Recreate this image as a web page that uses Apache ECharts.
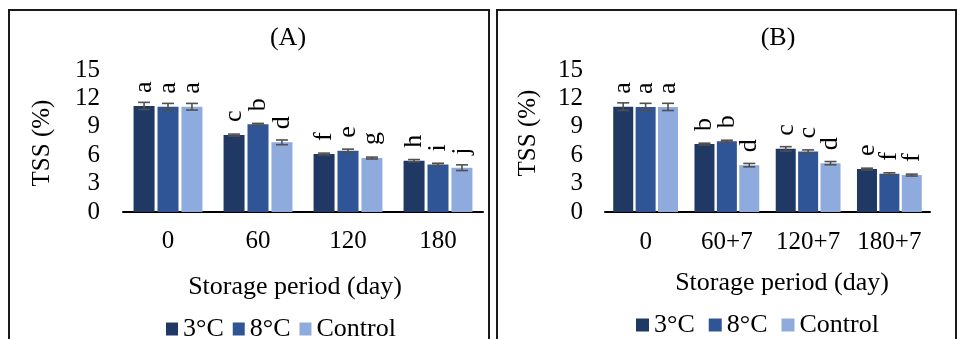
<!DOCTYPE html>
<html>
<head>
<meta charset="utf-8">
<style>html,body{margin:0;padding:0;background:#fff;}#c{width:957px;height:339px;}</style>
<script src="https://cdn.jsdelivr.net/npm/echarts@6/dist/echarts.min.js"></script>
</head>
<body>
<div id="c"></div>
<script>
const seriesNames = ['3°C', '8°C', 'Control'];
const categoriesA = ['0', '60', '120', '180'];
const categoriesB = ['0', '60+7', '120+7', '180+7'];
const yTicks = [0, 3, 6, 9, 12, 15];

// Panel A values
const a3 = [11.2, 8.13, 6.12, 5.42];
const a8 = [11.12, 9.26, 6.47, 5.03];
const aC = [11.12, 7.36, 5.7, 4.68];
const aErr3 = [0.38, 0.1, 0.1, 0.12];
const aErr8 = [0.35, 0.1, 0.17, 0.12];
const aErrC = [0.35, 0.25, 0.1, 0.3];
const aLet3 = ['a', 'c', 'f', 'h'];
const aLet8 = ['a', 'b', 'e', 'i'];
const aLetC = ['a', 'd', 'g', 'j'];

// Panel B values
const b3 = [11.13, 7.17, 6.67, 4.53];
const b8 = [11.1, 7.48, 6.39, 4.04];
const bC = [11.1, 4.95, 5.16, 3.9];
const bErr3 = [0.4, 0.1, 0.23, 0.1];
const bErr8 = [0.38, 0.1, 0.17, 0.1];
const bErrC = [0.38, 0.18, 0.17, 0.1];
const bLet3 = ['a', 'b', 'c', 'e'];
const bLet8 = ['a', 'b', 'c', 'f'];
const bLetC = ['a', 'd', 'd', 'f'];

const colors = ['#203864', '#2F5597', '#8FAADC'];
const FONT = 'Liberation Serif';

const chart = echarts.init(document.getElementById('c'));

function barSeries(idx, name, values, letters, barWidth, barGap) {
  return {
    type: 'bar', name: name, xAxisIndex: idx, yAxisIndex: idx,
    data: values, barWidth: barWidth, barGap: barGap,
    itemStyle: { color: colors[seriesNames.indexOf(name)] },
    label: {
      show: true, position: 'top', distance: 13, rotate: 90,
      align: 'left', verticalAlign: 'middle',
      fontFamily: FONT, fontSize: 26, color: '#000',
      formatter: p => letters[p.dataIndex]
    },
    emphasis: { disabled: true },
    z: 2
  };
}

function errSeries(idx, sIdx, values, errs, barWidth, barGap) {
  const off = (sIdx - 1) * barWidth * (1 + barGap);
  return {
    type: 'custom', xAxisIndex: idx, yAxisIndex: idx,
    data: values.map((v, i) => [i, v, errs[i]]),
    encode: { x: 0, y: 1 },
    z: 5, silent: true,
    renderItem: function (params, api) {
      const i = api.value(0), v = api.value(1), e = api.value(2);
      const hi = api.coord([i, v + e]);
      const lo = api.coord([i, v - e]);
      const x = hi[0] + off;
      const cap = 6;
      const st = { stroke: '#505050', lineWidth: 1.6 };
      return {
        type: 'group', children: [
          { type: 'line', shape: { x1: x, y1: hi[1], x2: x, y2: lo[1] }, style: st },
          { type: 'line', shape: { x1: x - cap, y1: hi[1], x2: x + cap, y2: hi[1] }, style: st },
          { type: 'line', shape: { x1: x - cap, y1: lo[1], x2: x + cap, y2: lo[1] }, style: st }
        ]
      };
    }
  };
}

function xAxis(idx, cats, margin) {
  return {
    type: 'category', gridIndex: idx, data: cats,
    axisLine: { lineStyle: { color: '#000', width: 2 } },
    axisTick: { show: false },
    axisLabel: { interval: 0, fontFamily: FONT, fontSize: 25, color: '#000', margin: margin }
  };
}
function yAxis(idx, margin) {
  return {
    type: 'value', gridIndex: idx, min: yTicks[0], max: yTicks[yTicks.length - 1], interval: 3,
    axisLine: { show: false }, axisTick: { show: false }, splitLine: { show: false },
    axisLabel: { fontFamily: FONT, fontSize: 25, color: '#000', margin: margin }
  };
}

const wA = 21, gA = 0.14, wB = 20, gB = 0.12;

const txt = (t, x, y, rot, fs) => ({
  type: 'text', x: x, y: y, rotation: rot || 0,
  style: { text: t, fontFamily: FONT, fontSize: fs || 25, fill: '#000', align: 'center', verticalAlign: 'middle' }
});

chart.setOption({
  animation: false,
  grid: [
    { left: 123, top: 70, width: 360, height: 142 },
    { left: 605, top: 70, width: 325, height: 142 }
  ],
  xAxis: [xAxis(0, categoriesA, 17), xAxis(1, categoriesB, 18)],
  yAxis: [yAxis(0, 23), yAxis(1, 22)],
  legend: [
    { left: 161, top: 311, itemWidth: 12, itemHeight: 13, itemGap: 9, icon: 'rect',
      data: seriesNames, selectedMode: false,
      textStyle: { fontFamily: FONT, fontSize: 26, color: '#000' } },
    { left: 631, top: 307, itemWidth: 13, itemHeight: 13, itemGap: 14, icon: 'rect',
      data: seriesNames, selectedMode: false,
      textStyle: { fontFamily: FONT, fontSize: 26, color: '#000' } }
  ],
  graphic: [
    { type: 'rect', shape: { x: 9, y: 10, width: 480, height: 360 }, style: { fill: 'none', stroke: '#1a1a1a', lineWidth: 2 } },
    { type: 'rect', shape: { x: 497, y: 10, width: 459, height: 360 }, style: { fill: 'none', stroke: '#1a1a1a', lineWidth: 2 } },
    txt('(A)', 288, 38, 0, 26),
    txt('(B)', 778, 38, 0, 26),
    txt('Storage period (day)', 295, 287, 0, 26),
    txt('Storage period (day)', 782, 283, 0, 26),
    txt('TSS (%)', 42, 143, Math.PI / 2, 25),
    txt('TSS (%)', 528, 133, Math.PI / 2, 25)
  ],
  series: [
    barSeries(0, seriesNames[0], a3, aLet3, wA, gA),
    barSeries(0, seriesNames[1], a8, aLet8, wA, gA),
    barSeries(0, seriesNames[2], aC, aLetC, wA, gA),
    barSeries(1, seriesNames[0], b3, bLet3, wB, gB),
    barSeries(1, seriesNames[1], b8, bLet8, wB, gB),
    barSeries(1, seriesNames[2], bC, bLetC, wB, gB),
    errSeries(0, 0, a3, aErr3, wA, gA),
    errSeries(0, 1, a8, aErr8, wA, gA),
    errSeries(0, 2, aC, aErrC, wA, gA),
    errSeries(1, 0, b3, bErr3, wB, gB),
    errSeries(1, 1, b8, bErr8, wB, gB),
    errSeries(1, 2, bC, bErrC, wB, gB)
  ]
});
</script>
</body>
</html>
